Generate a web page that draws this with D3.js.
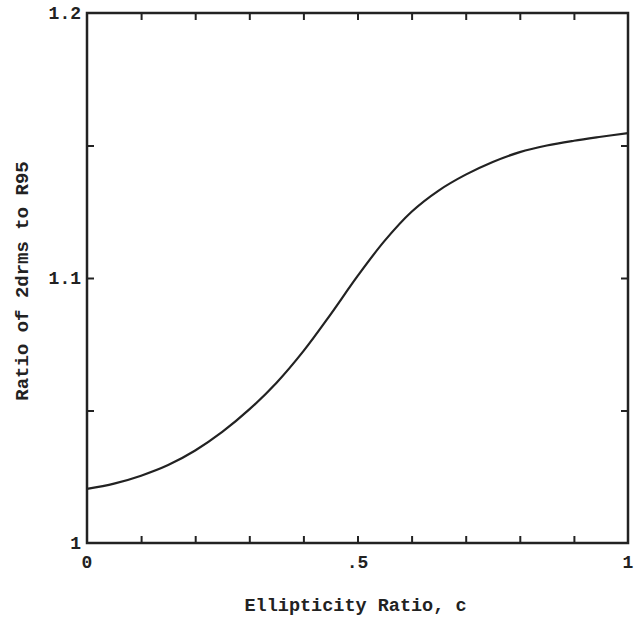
<!DOCTYPE html>
<html>
<head>
<meta charset="utf-8">
<script src="https://cdn.jsdelivr.net/npm/d3@7"></script>
<style>
  body { margin: 0; background: #fff; }
  svg { display: block; }
  text { font-family: "Liberation Mono", "DejaVu Sans Mono", monospace; font-weight: bold; fill: #222; }
</style>
</head>
<body>
<svg id="chart" width="636" height="620"></svg>
<script>
// ellipticity ratio c and the ratio 2drms / R95
const ellipticity = [0, 0.05, 0.1, 0.15, 0.2, 0.25, 0.3, 0.35, 0.4, 0.45, 0.5,
                     0.55, 0.6, 0.65, 0.7, 0.75, 0.8, 0.85, 0.9, 0.95, 1.0];
const ratio = [1.0204, 1.0224, 1.0254, 1.0294, 1.0349, 1.0419, 1.0504, 1.0604, 1.0724, 1.0862, 1.1007,
               1.114, 1.125, 1.133, 1.139, 1.1438, 1.1475, 1.1500, 1.1518, 1.1533, 1.1547];

const xTickLabels = [{v: 0, t: "0"}, {v: 0.5, t: ".5"}, {v: 1, t: "1"}];
const yTickLabels = [{v: 1, t: "1"}, {v: 1.1, t: "1.1"}, {v: 1.2, t: "1.2"}];
const xMinorTicks = d3.range(1, 10).map(i => i / 10);
const yMinorTicks = [1.05, 1.1, 1.15];

const svg = d3.select("#chart");
const margin = {top: 13, right: 8, bottom: 77, left: 87};
const width = 636 - margin.left - margin.right;
const height = 620 - margin.top - margin.bottom;

const x = d3.scaleLinear().domain([0, 1]).range([0, width]);
const y = d3.scaleLinear().domain([1, 1.2]).range([height, 0]);

const g = svg.append("g")
    .attr("transform", "translate(" + margin.left + "," + margin.top + ")");

// inward ticks on all four sides
const tickLen = 7;
g.append("g").call(d3.axisBottom(x).tickValues(xMinorTicks).tickSize(-tickLen).tickFormat(""))
    .attr("transform", "translate(0," + height + ")");
g.append("g").call(d3.axisTop(x).tickValues(xMinorTicks).tickSize(-tickLen).tickFormat(""));
g.append("g").call(d3.axisLeft(y).tickValues(yMinorTicks).tickSize(-tickLen).tickFormat(""));
g.append("g").call(d3.axisRight(y).tickValues(yMinorTicks).tickSize(-tickLen).tickFormat(""))
    .attr("transform", "translate(" + width + ",0)");
g.selectAll(".domain").remove();
g.selectAll(".tick line").attr("stroke", "#222").attr("stroke-width", 2);

// frame
g.append("rect")
    .attr("width", width).attr("height", height)
    .attr("fill", "none").attr("stroke", "#222").attr("stroke-width", 2.5);

// tick labels
g.selectAll(".xlab").data(xTickLabels).enter().append("text")
    .attr("x", d => x(d.v))
    .attr("y", height + 25)
    .attr("text-anchor", "middle")
    .attr("font-size", 18)
    .text(d => d.t);

g.selectAll(".ylab").data(yTickLabels).enter().append("text")
    .attr("x", -6)
    .attr("y", d => y(d.v) + 6)
    .attr("text-anchor", "end")
    .attr("font-size", 18)
    .text(d => d.t);

// curve
const line = d3.line()
    .x((d, i) => x(ellipticity[i]))
    .y(d => y(d))
    .curve(d3.curveCatmullRom);

g.append("path")
    .datum(ratio)
    .attr("fill", "none")
    .attr("stroke", "#222")
    .attr("stroke-width", 2.2)
    .attr("d", line);

// axis titles
svg.append("text")
    .attr("x", margin.left + width / 2 - 2)
    .attr("y", 611)
    .attr("text-anchor", "middle")
    .attr("font-size", 18.5)
    .text("Ellipticity Ratio, c");

svg.append("text")
    .attr("transform", "translate(28,281) rotate(-90)")
    .attr("text-anchor", "middle")
    .attr("font-size", 19)
    .text("Ratio of 2drms to R95");
</script>
</body>
</html>
